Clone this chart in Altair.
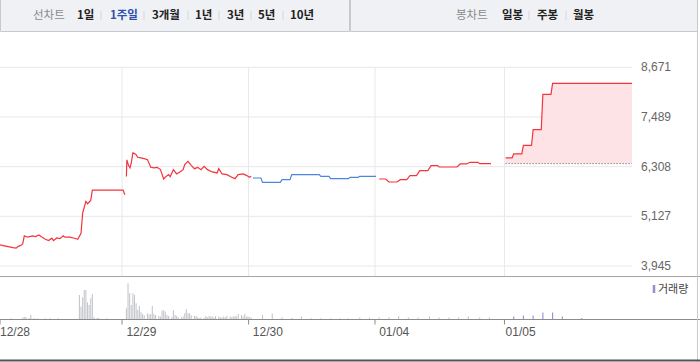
import altair as alt
import pandas as pd

# ---------------- data ----------------
DAYS = ["12/28", "12/29", "12/30", "01/04", "01/05"]
DAY_START = [0, 78, 156, 234, 312]          # first 5-minute slot of each session
DAY_TICK = [0, 75.3, 153.4, 231.4, 311.3]   # slots where the date ticks sit
PRICE_TICKS = [3945, 5127, 6308, 7489, 8671]
PREV_CLOSE = 6380
LAST_SLOT = 390

LINE_TABS = ["1일", "1주일", "3개월", "1년", "3년", "5년", "10년"]
CANDLE_TABS = ["일봉", "주봉", "월봉"]
ACTIVE_TAB = "1주일"

# price line, per session: (5-minute slot, price)
p1228_t = [0, 2, 5, 8, 10, 11, 13, 14, 15, 17, 20, 22, 24, 26, 28, 30, 32, 33, 35, 37,
           39, 40, 43, 46, 48, 50, 51, 53, 54, 56, 57, 76, 77]
p1228_v = [4446, 4430, 4406, 4382, 4368, 4406, 4439, 4470, 4661, 4630, 4661, 4645, 4685,
           4630, 4582, 4549, 4606, 4549, 4613, 4597, 4661, 4630, 4630, 4606, 4582, 4725,
           5203, 5480, 5425, 5504, 5752, 5752, 5640]

p1229_t = [78, 78.3, 79.3, 80.2, 81, 82, 83, 84, 85, 87, 89, 91, 93, 95, 97, 99, 101, 102,
           104, 105, 107, 109, 111, 113, 114, 116, 118, 120, 122, 124, 126, 128, 131, 134,
           135, 137, 140, 143, 145, 147, 150, 152, 154, 155]
p1229_v = [6076, 6470, 6339, 6277, 6396, 6635, 6618, 6595, 6530, 6516, 6499, 6475, 6292,
           6277, 6292, 6237, 6015, 6060, 6117, 6070, 6237, 6134, 6182, 6237, 6356, 6435,
           6339, 6260, 6292, 6237, 6315, 6237, 6182, 6158, 6260, 6134, 6117, 6054, 6022,
           6117, 6134, 6101, 6054, 6078]

p1230_t = [156, 161, 162, 173, 174, 179, 180, 197, 198, 203, 204, 215, 216, 221, 222, 232]
p1230_v = [6038, 6038, 5933, 5933, 5998, 5998, 6117, 6117, 6078, 6078, 6022, 6022, 6054,
           6054, 6078, 6078]

p0104_t = [234, 238, 240, 245, 247, 251, 253, 257, 259, 264, 266, 270, 271, 282, 284, 288,
           290, 295, 296, 303]
p0104_v = [6014, 6014, 5943, 5943, 5998, 5998, 6093, 6093, 6213, 6213, 6332, 6332, 6300,
           6300, 6372, 6372, 6411, 6411, 6380, 6380]

p0105_t = [312, 316, 317, 322, 323, 328, 329, 334, 335, 340, 341, 390]
p0105_v = [6516, 6516, 6611, 6611, 6816, 6816, 7191, 7191, 8027, 8027, 8289, 8289]

# volume (thousand shares) per 5-minute slot
vol_t = [7, 14, 15, 16, 18, 19, 21, 23, 28, 31, 36, 49, 50, 51, 52, 53, 54, 55, 56, 57, 58,
         60, 61, 66,
         78, 79, 80, 81, 82, 83, 84, 85, 86, 87, 88, 89, 91, 92, 93, 94, 95, 96, 98, 99,
         100, 101, 102, 103, 104, 106, 107, 108, 109, 110, 112, 113, 114, 115, 116, 117,
         118, 120, 121, 122, 123, 124, 126, 127, 128, 129, 130, 131, 132, 133, 135, 136,
         137, 138, 139, 140, 142, 143, 144, 145, 146, 147, 149, 150, 151, 152, 153, 154, 155,
         162, 168, 174, 180, 186, 192, 198, 204, 210, 215, 222, 228,
         234, 240, 246, 252, 258, 265, 271, 277, 283, 289, 296, 302,
         317, 323, 329, 335, 341, 347, 359]
vol_v = [1, 1.7, 2.3, 2.3, 1.3, 4.3, 1.3, 1, 1, 1, 1, 24.3, 12.7, 22, 29.3, 29.3, 17, 14.3,
         21, 25.3, 2, 1.3, 1.3, 1,
         11, 36, 26, 14.3, 26, 24.3, 16, 9.3, 13.3, 7, 5.3, 3.7, 6, 4.7, 5.3, 13.3, 5.3,
         4.3, 3.3, 2.7, 8.7, 8.7, 7.7, 4.3, 3.3, 2, 9.3, 4.3, 3.3, 1.7, 2, 2.7, 6, 10, 6, 6,
         4, 3.3, 3.3, 2, 1, 1.7, 1.3, 3.3, 2, 3.3, 2.7, 2.7, 1.7, 3.3, 2.7, 2, 1.7, 2.7, 2,
         3.3, 2.7, 2, 2.7, 3.3, 2.7, 5.3, 4.3, 2.7, 5.3, 2.7, 2.7, 2, 1.7,
         4.3, 5.7, 2, 1.3, 2.7, 1, 1, 1, 1, 1, 1.7, 1.7,
         1.7, 1.7, 3.3, 1.7, 1.7, 3, 1.7, 1.7, 1.7, 3, 1.7, 1.7,
         2.7, 3.7, 3.7, 6.7, 6.7, 2.7, 1.3]

# ---------------- styles / layout ----------------
RED = "#f4333c"
BLUE = "#4a86e0"
FILL = "#fde3e6"
GRID = "#e8e8e8"
GRAY_BAR = "#c5c7cc"
PURPLE = "#9a8bd2"
KR = "Noto Sans CJK KR"
NUM = "Liberation Sans"

LINE_TAB_X = [77, 110, 152, 195, 227, 258, 290]
LINE_SEP_X = [101, 144, 188, 219, 251, 283]
CANDLE_TAB_X = [502, 537, 573]
CANDLE_SEP_X = [529, 566]

x_scale = alt.Scale(domain=[0, LAST_SLOT], range=[0, 632], nice=False, zero=False, padding=0)
price_scale = alt.Scale(domain=[3945, 8671], range=[266, 67.3], nice=False, zero=False, padding=0)
vol_scale = alt.Scale(domain=[0, 36], range=[319.3, 283.3], nice=False, padding=0)

# ---------------- frames ----------------
rows = []
for day, ts, vs in [("12/28", p1228_t, p1228_v), ("12/29", p1229_t, p1229_v),
                    ("12/30", p1230_t, p1230_v), ("01/04", p0104_t, p0104_v),
                    ("01/05", p0105_t, p0105_v)]:
    for t, v in zip(ts, vs):
        rows.append({"day": day, "t": t, "p": v})
price_df = pd.DataFrame(rows)
today_df = price_df[price_df["day"] == "01/05"].assign(base=PREV_CLOSE)

vol_df = pd.DataFrame({"t": vol_t, "v": vol_v})
vol_df["sess"] = ["today" if t >= DAY_START[-1] else "past" for t in vol_t]

ticks_df = pd.DataFrame({"p": PRICE_TICKS})
dayticks_df = pd.DataFrame({"t": DAY_TICK})
daylabels_df = pd.DataFrame({"t": DAY_START, "label": DAYS})
prev_df = pd.DataFrame({"t0": [DAY_START[-1]], "t1": [LAST_SLOT], "p": [PREV_CLOSE]})
ONE = pd.DataFrame({"k": [0]})


def rule(x1, x2, y1, y2, color, width=1):
    return alt.Chart(ONE).mark_rule(color=color, strokeWidth=width).encode(
        x=alt.value(x1), x2=alt.value(x2), y=alt.value(y1), y2=alt.value(y2))


def label(text, x, y, size, color, weight="normal", font=KR):
    return alt.Chart(ONE).mark_text(
        text=text, align="left", baseline="middle", font=font, fontSize=size,
        fontWeight=weight, color=color).encode(x=alt.value(x), y=alt.value(y))


layers = []

# header boxes
for x1, x2 in [(0.5, 349.5), (350.5, 697.5)]:
    layers.append(alt.Chart(ONE).mark_rect(fill="#f0f1f5", stroke="#c8c9cd", strokeWidth=1).encode(
        x=alt.value(x1), x2=alt.value(x2), y=alt.value(-2), y2=alt.value(31.5)))
layers.append(label("선차트", 33, 15.5, 11.5, "#8a8a8a"))
for tab, x in zip(LINE_TABS, LINE_TAB_X):
    layers.append(label(tab, x, 15.5, 11.5, "#2d4fae" if tab == ACTIVE_TAB else "#222222", "bold"))
for x in LINE_SEP_X:
    layers.append(rule(x, x, 11, 20, "#d6d6d6"))
layers.append(label("봉차트", 456, 15.5, 11.5, "#8a8a8a"))
for tab, x in zip(CANDLE_TABS, CANDLE_TAB_X):
    layers.append(label(tab, x, 15.5, 11.5, "#222222", "bold"))
for x in CANDLE_SEP_X:
    layers.append(rule(x, x, 11, 20, "#d6d6d6"))

# grid
layers.append(alt.Chart(ticks_df).mark_rule(color=GRID, strokeWidth=1).encode(
    y=alt.Y("p:Q", scale=price_scale, axis=None), x=alt.value(0), x2=alt.value(632)))
layers.append(alt.Chart(dayticks_df[dayticks_df["t"] > 0]).mark_rule(color=GRID, strokeWidth=1).encode(
    x=alt.X("t:Q", scale=x_scale, axis=None), y=alt.value(67.3), y2=alt.value(276)))

# price axis labels
layers.append(alt.Chart(ticks_df).mark_text(
    align="left", baseline="middle", font=NUM, fontSize=12, color="#666666").encode(
    y=alt.Y("p:Q", scale=price_scale, axis=None), x=alt.value(641),
    text=alt.Text("p:Q", format=",")))

# today's fill and previous-close line
layers.append(alt.Chart(today_df).mark_area(color=FILL, opacity=1).encode(
    x=alt.X("t:Q", scale=x_scale, axis=None),
    y=alt.Y("p:Q", scale=price_scale, axis=None), y2="base:Q"))
layers.append(alt.Chart(prev_df).mark_rule(color="#555555", strokeWidth=1, strokeDash=[1, 2]).encode(
    x=alt.X("t0:Q", scale=x_scale, axis=None), x2="t1:Q",
    y=alt.Y("p:Q", scale=price_scale, axis=None)))

# price line
layers.append(alt.Chart(price_df).mark_line(strokeWidth=1.2).encode(
    x=alt.X("t:Q", scale=x_scale, axis=None),
    y=alt.Y("p:Q", scale=price_scale, axis=None),
    color=alt.Color("day:N", scale=alt.Scale(domain=DAYS, range=[RED, RED, BLUE, RED, RED]), legend=None),
    order="t:Q"))

# volume panel frame
layers.append(rule(0, 700, 276.5, 276.5, "#a5a5a5"))
layers.append(alt.Chart(vol_df).mark_bar(width=1.1).encode(
    x=alt.X("t:Q", scale=x_scale, axis=None),
    y=alt.Y("v:Q", scale=vol_scale, axis=None),
    color=alt.Color("sess:N", scale=alt.Scale(domain=["past", "today"], range=[GRAY_BAR, PURPLE]), legend=None)))
layers.append(rule(0, 700, 319.5, 319.5, "#8c8c8c"))
layers.append(alt.Chart(dayticks_df).mark_rule(color="#8c8c8c", strokeWidth=1).encode(
    x=alt.X("t:Q", scale=x_scale, axis=None), y=alt.value(319.5), y2=alt.value(324.5)))
layers.append(alt.Chart(daylabels_df).mark_text(
    align="left", baseline="middle", font=NUM, fontSize=12, color="#555555").encode(
    x=alt.X("t:Q", scale=x_scale, axis=None), y=alt.value(331.5), text="label:N"))

# volume legend
layers.append(rule(654, 654, 285, 293, PURPLE, 2.5))
layers.append(label("거래량", 658, 289.5, 11, "#444444"))

# outer borders
layers.append(rule(697.5, 697.5, 0, 362, "#c8c9cd"))
layers.append(rule(0, 700, 360.5, 360.5, "#555555", 2))

chart = alt.layer(*layers).resolve_scale(y="independent", color="independent").properties(
    width=700, height=362, autosize="none", padding=0, background="white"
).configure_view(stroke=None)

chart.save("out.html", embed_options={"renderer": "svg", "actions": False})
